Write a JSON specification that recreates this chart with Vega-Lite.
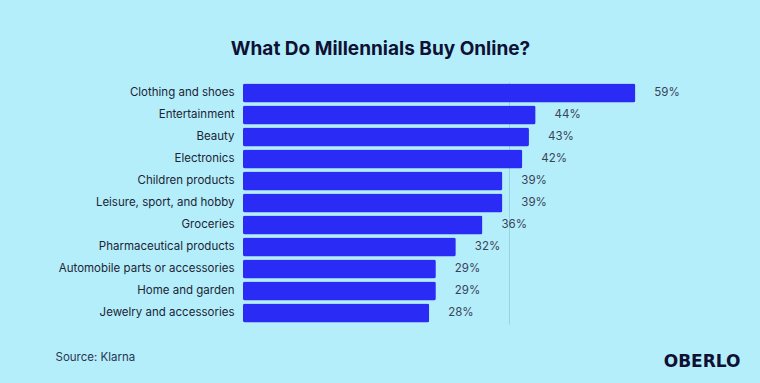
{
  "$schema": "https://vega.github.io/schema/vega-lite/v6.json",
  "width": 399,
  "height": 242,
  "autosize": {"type": "none"},
  "padding": {"left": 243, "top": 82, "right": 118, "bottom": 59},
  "background": "#b4eefb",
  "title": {
    "text": "What Do Millennials Buy Online?",
    "font": "Inter",
    "fontSize": 19,
    "fontWeight": "bold",
    "color": "#0e1133",
    "anchor": "middle",
    "dx": -62,
    "offset": 23
  },
  "config": {
    "view": {"stroke": null},
    "font": "Inter"
  },
  "data": {
    "values": [
      {"category": "Clothing and shoes", "share": 0.59},
      {"category": "Entertainment", "share": 0.44},
      {"category": "Beauty", "share": 0.43},
      {"category": "Electronics", "share": 0.42},
      {"category": "Children products", "share": 0.39},
      {"category": "Leisure, sport, and hobby", "share": 0.39},
      {"category": "Groceries", "share": 0.36},
      {"category": "Pharmaceutical products", "share": 0.32},
      {"category": "Automobile parts or accessories", "share": 0.29},
      {"category": "Home and garden", "share": 0.29},
      {"category": "Jewelry and accessories", "share": 0.28}
    ]
  },
  "encoding": {
    "y": {
      "field": "category",
      "type": "nominal",
      "sort": null,
      "scale": {"paddingInner": 0.136, "paddingOuter": 0.068},
      "axis": {
        "title": "OBERLO",
        "titleAngle": 0,
        "titleX": 497,
        "titleY": 279,
        "titleAlign": "right",
        "titleBaseline": "middle",
        "titleFont": "DejaVu Sans",
        "titleFontWeight": "bold",
        "titleFontSize": 17,
        "titleColor": "#0e1133",
        "titleLimit": 0,
        "labelFont": "Inter",
        "labelFontSize": 11.5,
        "labelColor": "#1d2535",
        "labelPadding": 9,
        "labelLimit": 0,
        "ticks": false,
        "domain": false,
        "grid": false
      }
    },
    "x": {
      "field": "share",
      "type": "quantitative",
      "scale": {"domain": [0, 0.6], "nice": false},
      "axis": {
        "values": [0.4],
        "labels": false,
        "ticks": false,
        "domain": false,
        "grid": true,
        "gridColor": "#96d3e4",
        "gridWidth": 1,
        "title": "Source: Klarna",
        "titleX": -188,
        "titleY": 33,
        "titleAlign": "left",
        "titleBaseline": "middle",
        "titleFont": "Inter",
        "titleFontWeight": "normal",
        "titleFontSize": 11.5,
        "titleColor": "#2a3550"
      }
    }
  },
  "layer": [
    {
      "mark": {"type": "bar", "color": "#2b2bf6", "cornerRadius": 2}
    },
    {
      "mark": {"type": "text", "align": "left", "baseline": "middle", "dx": 19, "font": "Inter", "fontSize": 11.5, "color": "#3a4356"},
      "encoding": {
        "text": {"field": "share", "type": "quantitative", "format": ".0%"}
      }
    }
  ]
}
